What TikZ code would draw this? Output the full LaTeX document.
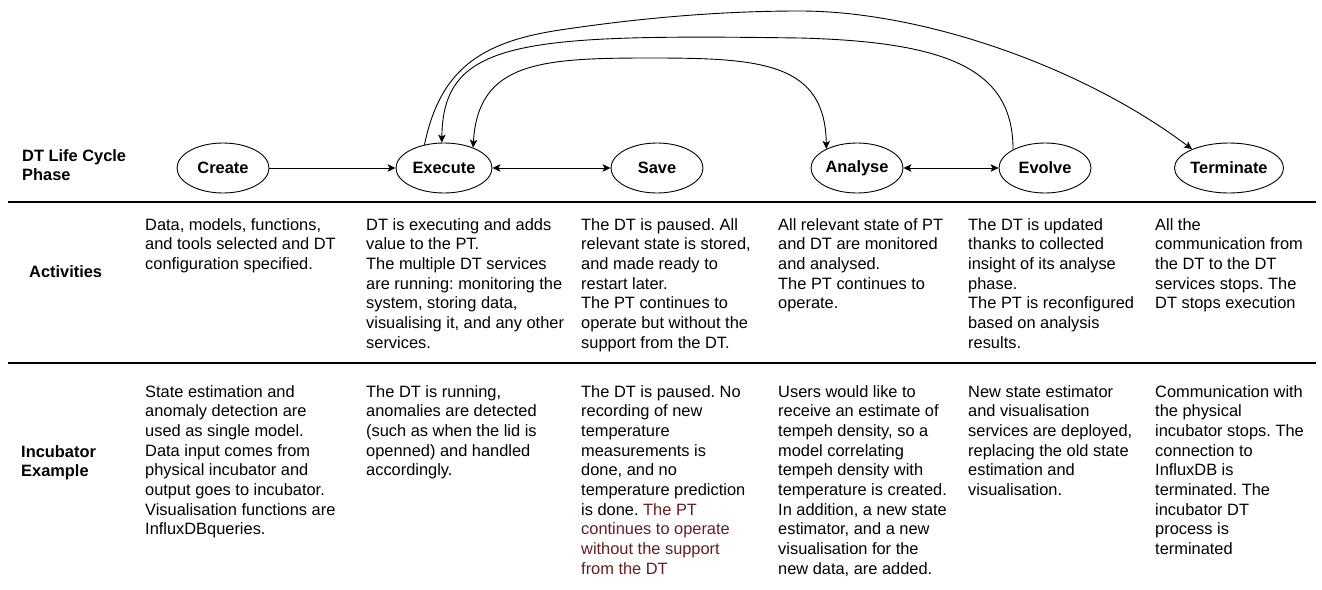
\documentclass[tikz,border=0pt]{standalone}
\usepackage{fontspec}
\setmainfont{Liberation Sans}
\usetikzlibrary{arrows.meta,shapes.geometric}
\definecolor{notecol}{RGB}{99,31,31}
\newcommand{\txtsize}{\fontsize{16.4}{19.67}\selectfont\frenchspacing}

\begin{document}
\begin{tikzpicture}[x=1pt,y=-1pt,
  phase/.style={ellipse,draw,line width=0.9pt,minimum width=92pt,minimum height=50pt,inner sep=0pt,font=\txtsize\bfseries},
  cell/.style={anchor=north west,inner sep=0pt,align=left,font=\txtsize},
  rowlabel/.style={anchor=north west,inner sep=0pt,align=left,font=\txtsize\bfseries},
  tip/.tip={Stealth[length=8pt,width=7.5pt,inset=2pt]},
  link/.style={line width=0.9pt,-tip},
  twoway/.style={line width=0.9pt,tip-tip},
  rule/.style={line width=2pt}
]
\useasboundingbox (0,0) rectangle (1322,589);

% row labels
\node[rowlabel] (lblphase) at (22,147.2) {\strut DT Life Cycle\\Phase};
\node[rowlabel] (lblact) at (29,263.2) {\strut Activities};
\node[rowlabel] (lblinc) at (21,443.2) {\strut Incubator\\Example};

% life cycle phases
\node[phase] (cre) at (223,168) {Create};
\node[phase,minimum width=96pt] (exe) at (444,168) {Execute};
\node[phase] (sav) at (657,168) {Save};
\node[phase] (ana) at (857,168) {Analyse};
\node[phase] (evo) at (1045,168) {Evolve};
\node[phase] (ter) at (1229,168) {Terminate};

% transitions along the row
\draw[link] (cre) -- (exe);
\draw[twoway] (exe) -- (sav);
\draw[twoway] (ana) -- (evo);

% arcs above the row
\draw[twoway] (exe.35) .. controls (478,62) and (540,58) .. (650,58)
  .. controls (760,58) and (825,62) .. (ana.148);
\draw[link] (evo.150) .. controls (1013,70) and (950,42) .. (800,38)
  .. controls (520,34) and (443,40) .. (exe.95);
\draw[link] (exe.130) .. controls (440,70) and (480,42) .. (560,30)
  .. controls (640,18) and (720,11) .. (800,11)
  .. controls (920,11) and (1080,65) .. (ter.153);

% row separators
\draw[rule] (8,202) -- (1316,202);
\draw[rule] (8,363) -- (1316,363);

% activities
\node[cell] (actcre) at (145,216.2) {\strut Data, models, functions,\\and tools selected and DT\\configuration specified.};
\node[cell] (actexe) at (366,216.2) {\strut DT is executing and adds\\value to the PT.\\The multiple DT services\\are running: monitoring the\\system, storing data,\\visualising it, and any other\\services.};
\node[cell] (actsav) at (581,216.2) {\strut The DT is paused. All\\relevant state is stored,\\and made ready to\\restart later.\\The PT continues to\\operate but without the\\support from the DT.};
\node[cell] (actana) at (778,216.2) {\strut All relevant state of PT\\and DT are monitored\\and analysed.\\The PT continues to\\operate.};
\node[cell] (actevo) at (968,216.2) {\strut The DT is updated\\thanks to collected\\insight of its analyse\\phase.\\The PT is reconfigured\\based on analysis\\results.};
\node[cell] (actter) at (1155,216.2) {\strut All the\\communication from\\the DT to the DT\\services stops. The\\DT stops execution};

% incubator example
\node[cell] (inccre) at (145,383.2) {\strut State estimation and\\anomaly detection are\\used as single model.\\Data input comes from\\physical incubator and\\output goes to incubator.\\Visualisation functions are\\InfluxDBqueries.};
\node[cell] (incexe) at (366,383.2) {\strut The DT is running,\\anomalies are detected\\(such as when the lid is\\openned) and handled\\accordingly.};
\node[cell] (incsav) at (581,383.2) {\strut The DT is paused. No\\recording of new\\temperature\\measurements is\\done, and no\\temperature prediction\\is done. \textcolor{notecol}{The PT}\\\textcolor{notecol}{continues to operate}\\\textcolor{notecol}{without the support}\\\textcolor{notecol}{from the DT}};
\node[cell] (incana) at (778,383.2) {\strut Users would like to\\receive an estimate of\\tempeh density, so a\\model correlating\\tempeh density with\\temperature is created.\\In addition, a new state\\estimator, and a new\\visualisation for the\\new data, are added.};
\node[cell] (incevo) at (968,383.2) {\strut New state estimator\\and visualisation\\services are deployed,\\replacing the old state\\estimation and\\visualisation.};
\node[cell] (incter) at (1155,383.2) {\strut Communication with\\the physical\\incubator stops. The\\connection to\\InfluxDB is\\terminated. The\\incubator DT\\process is\\terminated};
\end{tikzpicture}
\end{document}
